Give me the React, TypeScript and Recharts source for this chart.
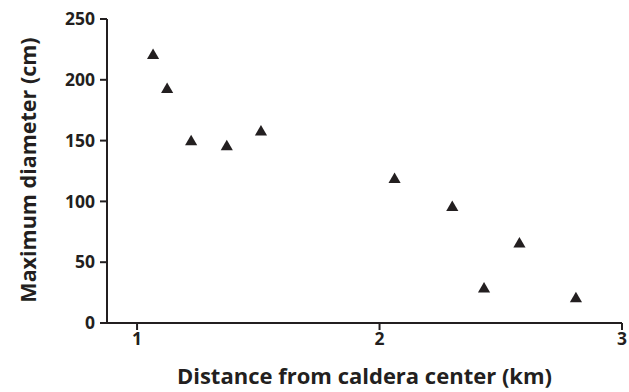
import React from 'react';
import { ScatterChart, Scatter, XAxis, YAxis, Label } from 'recharts';

const distanceKm = [1.066, 1.124, 1.223, 1.37, 1.511, 2.062, 2.3, 2.577, 2.431, 2.81];
const diameterCm = [220, 192, 149, 145, 157, 118, 95, 65, 28, 20];
const xTicks = [1, 2, 3];
const yTicks = [0, 50, 100, 150, 200, 250];

const INK = '#231f20';
const FONT = '"Open Sans", "DejaVu Sans", sans-serif';

const points = distanceKm.map((d, i) => ({ x: d, y: diameterCm[i] }));

const YTitle = (props: any) => {
  const { viewBox } = props;
  const cx = 27;
  const cy = viewBox.y + viewBox.height / 2 - 1;
  return (
    <text
      x={cx}
      y={cy}
      transform={`rotate(-90, ${cx}, ${cy})`}
      textAnchor="middle"
      dominantBaseline="central"
      fontFamily={FONT}
      fontWeight={700}
      fontSize={21.5}
      fill={INK}
    >
      Maximum diameter (cm)
    </text>
  );
};

const App: React.FC = () => {
  return (
    <div style={{ position: 'absolute', left: 0, top: 0, background: '#fff' }}>
      <ScatterChart width={629} height={392} margin={{ top: 19, right: 7, bottom: 29, left: 47 }}>
        <XAxis
          type="number"
          dataKey="x"
          domain={[0.876, 3]}
          ticks={xTicks}
          allowDataOverflow
          height={40}
          stroke={INK}
          strokeWidth={2}
          tickSize={7}
          tickMargin={3}
          tick={{ fill: INK, fontFamily: FONT, fontWeight: 700, fontSize: 17.5 }}
        >
          <Label
            value="Distance from caldera center (km)"
            position="bottom"
            offset={5}
            style={{ fill: INK, fontFamily: FONT, fontWeight: 700, fontSize: 22 }}
          />
        </XAxis>
        <YAxis
          type="number"
          dataKey="y"
          domain={[0, 250]}
          ticks={yTicks}
          width={60}
          stroke={INK}
          strokeWidth={2}
          tickSize={7}
          tickMargin={5}
          tick={{ fill: INK, fontFamily: FONT, fontWeight: 700, fontSize: 17.5 }}
        >
          <Label content={<YTitle />} />
        </YAxis>
        <Scatter data={points} shape="triangle" fill={INK} isAnimationActive={false} />
      </ScatterChart>
    </div>
  );
};

export default App;
